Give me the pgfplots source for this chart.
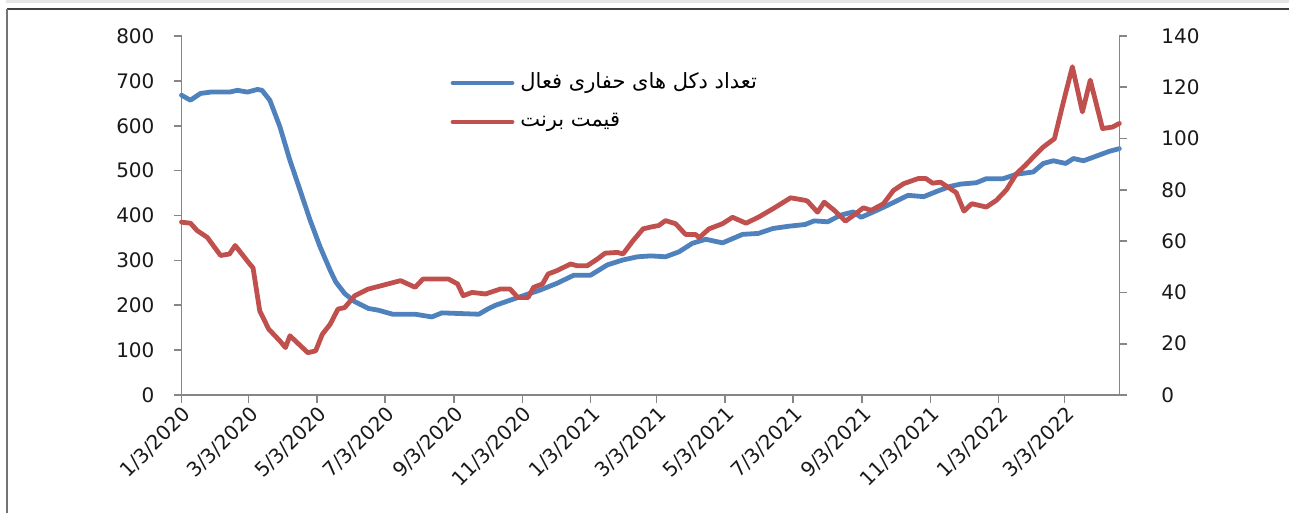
\documentclass[border=0pt]{standalone}
\usepackage{fontspec}
\setmainfont{DejaVu Sans}
\newfontfamily\arabicfont[Script=Arabic]{DejaVu Sans}
\TeXXeTstate=1
\usepackage{pgfplots}
\pgfplotsset{compat=1.18}
\usepackage{pgfplotstable}
\definecolor{rigblue}{HTML}{4F81BD}
\definecolor{brentred}{HTML}{C0504D}
\definecolor{axgrey}{HTML}{868686}
\definecolor{framegrey}{HTML}{404040}

% day offsets from 1/3/2020
\pgfplotstableread{
day val
0 668
8 657
17 672
26 675
43 675
50 679
59 675
68 681
72 679
79 657
88 598
97 523
106 457
115 390
124 330
133 278
138 252
146 226
155 208
167 193
176 189
189 180
209 180
224 174
233 183
266 180
275 193
281 200
303 219
321 234
336 249
351 267
366 267
381 290
395 301
408 308
420 310
433 308
445 319
457 338
469 347
484 339
502 358
516 360
529 371
543 376
558 380
566 388
578 386
590 401
601 408
608 396
619 408
632 423
641 434
650 445
664 442
677 455
688 465
697 470
711 473
720 482
735 482
747 492
762 497
771 516
780 522
791 516
798 527
807 522
818 532
830 543
839 549
}\rigs

\pgfplotstableread{
day val
0 67.4
8 67.0
14 64.1
23 61.5
35 54.4
43 55.0
48 58.3
61 51.1
64 49.6
70 32.8
78 25.7
88 21.1
93 18.5
97 23.1
113 16.5
120 17.2
126 23.7
133 27.6
140 33.5
146 34.1
155 38.7
167 41.3
182 43.0
196 44.6
209 42.0
216 45.2
239 45.2
247 43.3
252 38.7
260 40.0
272 39.4
285 41.3
294 41.3
301 38.0
310 38.0
315 42.0
323 43.3
328 47.2
336 48.5
348 51.1
354 50.4
363 50.4
372 53.0
379 55.3
390 55.6
395 55.0
404 60.2
413 64.8
420 65.5
427 66.1
433 68.0
442 66.8
451 62.6
460 62.6
463 61.3
472 64.8
484 66.8
493 69.3
505 67.0
516 69.3
529 72.6
545 76.9
558 75.9
560 75.6
569 71.3
575 75.2
584 72.0
594 67.8
601 70.0
610 73.0
617 72.0
628 74.6
637 79.8
646 82.4
659 84.4
666 84.4
672 82.6
679 83.0
690 79.8
693 79.0
700 71.7
707 74.6
720 73.3
729 75.9
738 80.0
747 86.3
755 89.6
762 92.8
771 96.7
781 100.0
789 114.3
797 128.0
806 110.4
813 122.8
824 103.9
833 104.5
839 105.9
}\brent

\begin{document}
\begin{tikzpicture}
\useasboundingbox (-90.75pt,-59pt) rectangle (553.75pt,197.5pt);
\pgfplotsset{
  common/.style={
    at={(0,0)}, anchor=south west,
    scale only axis, width=468.9pt, height=179.5pt,
    xmin=0, xmax=839,
    axis line style={axgrey, line width=0.8pt, -},
    tick style={axgrey, line width=0.8pt},
    tick align=outside,
    major tick length=4pt,
    ticklabel style={font=\fontsize{10}{12}\selectfont, text=black!90},
    /pgf/number format/assume math mode=true,
    clip=false,
  }
}
\begin{axis}[common,
  axis x line*=bottom, axis y line*=left,
  ymin=0, ymax=800, ytick={0,100,...,800},
  xtick={0,60,121,182,244,305,366,425,486,547,609,670,731,790},
  xticklabels={1/3/2020,3/3/2020,5/3/2020,7/3/2020,9/3/2020,11/3/2020,1/3/2021,3/3/2021,5/3/2021,7/3/2021,9/3/2021,11/3/2021,1/3/2022,3/3/2022},
  xticklabel style={rotate=45, anchor=north east, inner sep=0.5pt},
  yticklabel style={xshift=-6pt},
]
\addplot[rigblue, line width=2.4pt, line join=round, line cap=round] table[x=day, y=val] {\rigs};
\end{axis}
\begin{axis}[common,
  axis x line=none, axis y line*=right,
  ymin=0, ymax=140, ytick={0,20,...,140},
  yticklabel style={xshift=13.5pt},
]
\addplot[brentred, line width=2.4pt, line join=round, line cap=round] table[x=day, y=val] {\brent};
\draw[rigblue, line width=2.4pt, line cap=round] (rel axis cs:0.2895,0.869) -- ++(29.5pt,0)
  node[right, text=black, inner sep=3pt, font=\fontsize{10.5}{12}\selectfont] {\arabicfont\beginR تعداد دکل های حفاری فعال\endR};
\draw[brentred, line width=2.4pt, line cap=round] (rel axis cs:0.2895,0.7604) -- ++(29.5pt,0)
  node[right, text=black, inner sep=3pt, font=\fontsize{10.5}{12}\selectfont] {\arabicfont\beginR قیمت برنت\endR};
\end{axis}
\fill[black!10] (-87.75pt,197.5pt) rectangle (553.75pt,195.75pt);
\draw[framegrey, line width=0.8pt] (-87.25pt,193pt) -- (553.75pt,193pt);
\draw[black!55, line width=1pt] (-87.25pt,193pt) -- (-87.25pt,-59pt);
\end{tikzpicture}
\end{document}
